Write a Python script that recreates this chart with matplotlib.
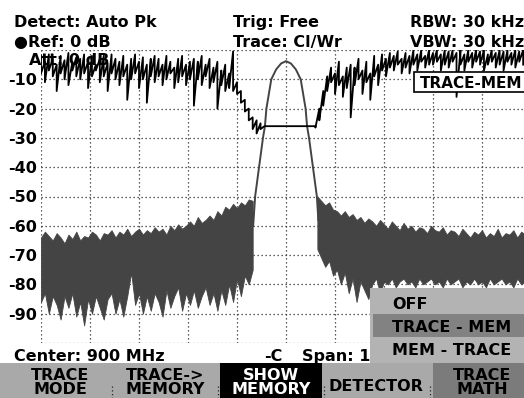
import numpy as np
import matplotlib.pyplot as plt
from matplotlib.patches import Rectangle

# capture size in pixels
W, H = 524, 398

# frequency axis: 900 MHz center, 1 MHz per division
center = 900.0
f_start = 895.0
step = 0.08

# memory trace (gray): noise floor envelopes in dB, left and right of the carrier
mem_left_hi = [-64, -62, -63.5, -65, -62.5, -64, -66, -63, -64.5, -62,
               -65, -63.5, -64, -62, -63, -65, -62.5, -63, -61.5, -64,
               -62, -63, -61, -63.5, -62, -61, -63, -61.5, -62.5, -60.5,
               -62, -61, -63, -60, -61.5, -59.5, -61, -60, -58.5, -60,
               -57, -59, -58, -56.5, -58, -55, -56.5, -53.5, -54.5, -52.5,
               -54, -52, -53, -51, -51.5]
mem_left_lo = [-86, -83, -90, -84, -87, -92, -84, -88, -83, -91,
               -86, -94, -85, -90, -84, -88, -92, -85, -83, -90,
               -85, -91, -84, -76, -87, -83, -90, -84, -89, -83,
               -86, -91, -82, -88, -84, -81, -89, -83, -87, -82,
               -88, -84, -81, -87, -83, -89, -82, -87, -80, -86,
               -78, -84, -77, -80, -75]
mem_right_hi = [-50, -51.5, -53, -52, -54.5, -55, -56.5, -55, -57, -56,
                -58, -57, -59, -57.5, -58.5, -60, -58, -59.5, -61, -58.5,
                -60, -61.5, -59, -61, -60, -62, -60.5, -61, -62.5, -60,
                -61.5, -62, -60.5, -63, -61.5, -62, -63.5, -61, -62.5, -64,
                -62, -63, -61.5, -64, -62.5, -63.5, -61, -64, -62.5, -63,
                -61.5, -64, -62, -63]
mem_right_lo = [-68, -71, -74, -72, -77, -75, -80, -76, -83, -78,
                -86, -79, -82, -85, -80, -78, -83, -79, -80, -78,
                -81, -79, -78, -80, -79, -81, -78, -80, -79, -78,
                -80, -79, -81, -78, -80, -79, -78, -81, -79, -80,
                -78, -80, -79, -81, -78, -80, -79, -78, -80, -79,
                -81, -78, -80, -79]
right_start = 900.64

# carrier peak of the memory trace (offset from center in MHz, level in dB)
peak_off = [-0.67, -0.63, -0.55, -0.47, -0.43, -0.40, -0.30, -0.20, -0.10, 0.0,
            0.10, 0.20, 0.30, 0.40, 0.43, 0.47, 0.55, 0.63, 0.66]
peak_db = [-60, -50, -40, -30, -26, -20, -10, -6.6, -4.6, -3.8,
           -4.6, -6.6, -10, -20, -26, -30, -40, -50, -58]

# TRACE - MEM result (black), max / min per display column
diff_hi = [-2, -4, -1.5, -3, -5, -2, -3.5, -1, -4, -2.5,
           -3, -1.5, -4, -2, -5, -3, -2, -4.5, -1.5, -3,
           -4, -2, -5, -3, -1.5, -4, -2.5, -5, -3, -2,
           -3, -5, -2, -4, -6, -3, -2, -5, -4, -3,
           -4, -2, -5, -3, -6, -4, -7, -5, -8, -0.5,
           -11, -14, -17, -20, -23, -24, -25, -26, -26, -26,
           -26, -26, -26, -26, -26, -26, -26, -26, -26, -26,
           -26, -20, -14, -9, -6, -8, -4, -9, -6, -5,
           -6, -3, -7, -4, -8, -2, -5, -1.5, -3, -1,
           -2, -0.5, -3, -1, -2, 0, -1.5, 0, -2, 0,
           -1, 0, -1.5, 0, -0.5, 0, -1, 0, -1.5, 0,
           -1, 0, -0.5, 0, -1.5, 0, -1, 0, -0.5, 0,
           -1, 0, -0.5, 0]
diff_lo = [-8, -11, -7, -9, -14, -8, -10, -12, -7, -9,
           -10, -8, -13, -9, -7, -11, -9, -14, -8, -10,
           -12, -9, -17, -10, -8, -13, -10, -18, -9, -11,
           -9, -12, -10, -8, -13, -11, -9, -12, -10, -19,
           -10, -12, -9, -13, -11, -20, -12, -14, -13, -14,
           -15, -18, -21, -24, -27, -28.5, -27, -26, -26, -26,
           -26, -26, -26, -26, -26, -26, -26, -26, -26, -26,
           -26.5, -24, -19, -14, -11, -15, -12, -16, -13, -23,
           -12, -10, -15, -11, -17, -9, -12, -7, -9, -6,
           -7, -5, -8, -6, -8, -5, -7, -4, -6, -5,
           -5, -4, -7, -5, -6, -4, -16, -5, -7, -4,
           -6, -4, -5, -7, -5, -4, -6, -5, -7, -4,
           -5, -6, -4, -5]

y_ticks = list(range(-100, 1, 10))

gray = '#444444'
font = {'family': 'DejaVu Sans', 'weight': 'bold', 'size': 11.5}

fig = plt.figure(figsize=(W / 100, H / 100), dpi=100)

# graticule: left edge at 41 px, 49 px per division, 0 dB at y=50, -100 dB at y=343
ax = fig.add_axes([41 / W, (H - 343) / H, 490 / W, 293 / H])
ax.set_xlim(f_start, f_start + 10)
ax.set_ylim(-100, 0)
ax.set_xticks(np.arange(f_start, f_start + 10.5, 1))
ax.set_yticks(y_ticks)
ax.set_yticklabels(['' if v in (0, -100) else str(v) for v in y_ticks], fontdict=font)
ax.tick_params(length=0, labelbottom=False, pad=3)
ax.grid(True, color='#2a2a2a', linestyle=(0, (1, 2.2)), linewidth=0.9)
ax.set_axisbelow(True)
for s in ax.spines.values():
    s.set_visible(False)

ax.text(29 / W, 1 - 65 / H, 'Att: 0 dB', transform=fig.transFigure, zorder=1, **font)

f_left = f_start + step * np.arange(len(mem_left_hi))
f_right = right_start + step * np.arange(len(mem_right_hi))
ax.fill_between(f_left, mem_left_lo, mem_left_hi, color=gray, lw=0.6, edgecolor=gray, zorder=2)
ax.fill_between(f_right, mem_right_lo, mem_right_hi, color=gray, lw=0.6, edgecolor=gray, zorder=2)
ax.plot(center + np.array(peak_off), peak_db, color=gray, lw=1.4, zorder=2)

# draw the difference trace like an auto-peak display: max -> min stroke per column
f_diff = f_start + step * np.arange(len(diff_hi))
xs = np.repeat(f_diff, 2)
ys = np.column_stack([diff_hi, diff_lo]).ravel()
ax.plot(xs, ys, color='black', lw=1.3, zorder=3)

# overlay in screen pixels for header, status line, menus and softkeys
ov = fig.add_axes([0, 0, 1, 1])
ov.set_xlim(0, W)
ov.set_ylim(H, 0)
ov.axis('off')

ov.text(14, 27, 'Detect: Auto Pk', **font)
ov.text(14, 47, '●Ref: 0 dB', **font)
ov.text(233, 27, 'Trig: Free', **font)
ov.text(233, 47, 'Trace: Cl/Wr', **font)
ov.text(410, 27, 'RBW: 30 kHz', **font)
ov.text(410, 47, 'VBW: 30 kHz', **font)

ov.add_patch(Rectangle((414, 72), 120, 20, facecolor='white', edgecolor='black', lw=1.2))
ov.text(420, 88, 'TRACE-MEM', **dict(font, size=11))

ov.text(14, 361, 'Center: 900 MHz', **font)
ov.text(264, 361, '-C', **font)
ov.text(302, 361, 'Span: 1', **font)

# popup menu
ov.add_patch(Rectangle((370, 288), 160, 75, facecolor='#b3b3b3', lw=0))
ov.add_patch(Rectangle((373, 314), 160, 23, facecolor='#828282', lw=0))
ov.text(392, 309, 'OFF', **font)
ov.text(392, 332, 'TRACE - MEM', **font)
ov.text(392, 355, 'MEM - TRACE', **font)

# softkey bar
ov.add_patch(Rectangle((0, 363), W, 40, facecolor='#a9a9a9', lw=0))
ov.add_patch(Rectangle((220, 363), 102, 40, facecolor='black', lw=0))
ov.add_patch(Rectangle((433, 363), 95, 40, facecolor='#7b7b7b', lw=0))
for sx in [112, 218, 324, 430]:
    ov.plot([sx, sx], [386, 398], color='#222222', lw=0.9, linestyle=(0, (1, 2)))

keys = [(60, 'TRACE', 'MODE', 'black'), (165, 'TRACE->', 'MEMORY', 'black'),
        (271, 'SHOW', 'MEMORY', 'white'), (482, 'TRACE', 'MATH', 'black')]
for kx, l1, l2, c in keys:
    ov.text(kx, 380.5, l1, ha='center', color=c, **font)
    ov.text(kx, 394.5, l2, ha='center', color=c, **font)
ov.text(376, 391, 'DETECTOR', ha='center', **font)

fig.savefig('out.png', dpi=100)
